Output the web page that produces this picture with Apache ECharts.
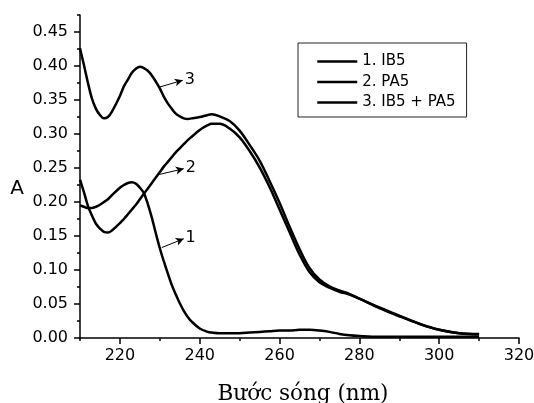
<!DOCTYPE html>
<html>
<head>
<meta charset="utf-8">
<script src="https://cdn.jsdelivr.net/npm/echarts@6/dist/echarts.min.js"></script>
<style>html,body{margin:0;padding:0;background:#fff}#c{width:534px;height:403px}</style>
</head>
<body>
<div id="c"></div>
<script>
// Wavelength (nm)
const wavelength = [210, 211, 212, 213, 214, 215, 216, 217, 218, 220, 221, 222, 223, 224, 225, 226, 227, 228, 229, 230,
  231, 232, 233, 234, 235, 236, 237, 238, 240, 242, 243, 245, 247.5, 250, 252.5, 255, 257.5, 260, 262.5, 265,
  267.5, 270, 272.5, 275, 277.5, 280, 285, 290, 295, 300, 305, 310];
// 1. IB5
const absIB5 = [0.195, 0.193, 0.191, 0.191, 0.193, 0.196, 0.200, 0.204, 0.210, 0.221, 0.225, 0.228, 0.229, 0.227, 0.221, 0.213,
  0.197, 0.177, 0.154, 0.132, 0.113, 0.095, 0.078, 0.064, 0.051, 0.040, 0.031, 0.024, 0.014, 0.009, 0.008, 0.007, 0.007,
  0.007, 0.008, 0.009, 0.010, 0.011, 0.011, 0.012, 0.012, 0.011, 0.009, 0.006, 0.004, 0.003, 0.002, 0.002, 0.002, 0.002,
  0.002, 0.002];
// 2. PA5
const absPA5 = [0.233, 0.214, 0.194, 0.180, 0.168, 0.161, 0.156, 0.155, 0.158, 0.169, 0.175, 0.182, 0.189, 0.196, 0.204, 0.212,
  0.220, 0.228, 0.236, 0.244, 0.252, 0.259, 0.266, 0.273, 0.279, 0.285, 0.291, 0.296, 0.306, 0.313, 0.315, 0.315, 0.308,
  0.295, 0.275, 0.251, 0.222, 0.189, 0.156, 0.123, 0.097, 0.082, 0.074, 0.068, 0.064, 0.058, 0.044, 0.032, 0.021, 0.012,
  0.007, 0.005];
// 3. IB5 + PA5
const absMix = [0.426, 0.401, 0.375, 0.352, 0.337, 0.328, 0.323, 0.325, 0.333, 0.356, 0.370, 0.380, 0.390, 0.396, 0.399, 0.397,
  0.393, 0.386, 0.377, 0.367, 0.355, 0.345, 0.337, 0.330, 0.326, 0.323, 0.322, 0.323, 0.325, 0.328, 0.329, 0.326, 0.319,
  0.305, 0.284, 0.261, 0.231, 0.199, 0.164, 0.131, 0.103, 0.086, 0.076, 0.070, 0.065, 0.058, 0.045, 0.033, 0.021, 0.012,
  0.007, 0.006];

const seriesNames = ['1. IB5', '2. PA5', '3. IB5 + PA5'];
const curveLabels = ['1', '2', '3'];
// arrow annotations: [start, end] in data coordinates
const arrows = [
  [[230.5, 0.133], [236, 0.146]],
  [[229.5, 0.240], [236, 0.249]],
  [[229.9, 0.369], [235.75, 0.379]]
];

const xMajor = [220, 240, 260, 280, 300, 320];
const xMinor = [210, 230, 250, 270, 290, 310];
const yMajor = [0, 0.05, 0.10, 0.15, 0.20, 0.25, 0.30, 0.35, 0.40, 0.45];
const yMinor = [0.025, 0.075, 0.125, 0.175, 0.225, 0.275, 0.325, 0.375, 0.425, 0.475];

const X_MIN = 210, X_MAX = 320, Y_MIN = 0, Y_MAX = 0.475;
const FONT = 'DejaVu Sans';
const BLACK = '#000';

const allAbs = [absIB5, absPA5, absMix];

const series = allAbs.map((arr, i) => ({
  name: seriesNames[i],
  type: 'line',
  xAxisIndex: 0,
  yAxisIndex: 0,
  data: wavelength.map((w, k) => [w, arr[k]]),
  showSymbol: false,
  symbol: 'none',
  smooth: 0.35,
  lineStyle: { color: BLACK, width: 2.5 },
  itemStyle: { color: BLACK },
  markLine: {
    silent: true,
    symbol: ['none', 'arrow'],
    symbolSize: [6, 8],
    lineStyle: { color: BLACK, width: 1, type: 'solid' },
    label: {
      show: true, position: 'end', formatter: curveLabels[i], distance: 2,
      color: BLACK, fontFamily: FONT, fontSize: 16
    },
    data: [[{ coord: arrows[i][0] }, { coord: arrows[i][1] }]]
  }
}));

const chart = echarts.init(document.getElementById('c'), null, { renderer: 'canvas' });
chart.setOption({
  animation: false,
  backgroundColor: '#fff',
  grid: { left: 80, right: 15, top: 15, bottom: 65, containLabel: false, outerBoundsMode: 'none' },
  legend: {
    data: seriesNames,
    orient: 'vertical',
    left: 298, top: 43,
    padding: [11, 11, 7, 18],
    itemWidth: 40, itemHeight: 14, itemGap: 5.5,
    borderColor: '#222', borderWidth: 1,
    textStyle: { color: BLACK, fontFamily: FONT, fontSize: 15 },
    itemStyle: { opacity: 0, borderWidth: 0 },
    lineStyle: { width: 2.5, color: BLACK }
  },
  xAxis: [{
    type: 'value', position: 'bottom', min: X_MIN, max: X_MAX,
    name: 'Bước sóng (nm)', nameLocation: 'middle', nameGap: 45,
    nameTextStyle: { fontFamily: 'DejaVu Serif', fontSize: 21.5, color: BLACK, padding: [0, 0, 0, 7] },
    axisLine: { show: true, onZero: false, lineStyle: { color: BLACK, width: 1.5 } },
    axisTick: { show: true, inside: false, length: 6, customValues: xMajor, lineStyle: { color: BLACK, width: 1.5 } },
    axisLabel: { customValues: xMajor, margin: 10, color: BLACK, fontFamily: FONT, fontSize: 16 },
    splitLine: { show: false }
  }, {
    type: 'value', position: 'bottom', min: X_MIN, max: X_MAX,
    axisLine: { show: false },
    axisTick: { show: true, inside: false, length: 3, customValues: xMinor, lineStyle: { color: BLACK, width: 1.5 } },
    axisLabel: { show: false },
    splitLine: { show: false }
  }],
  yAxis: [{
    type: 'value', position: 'left', min: Y_MIN, max: Y_MAX,
    name: 'A', nameLocation: 'middle', nameRotate: 0, nameGap: 56,
    nameTextStyle: { fontFamily: FONT, fontSize: 20, color: BLACK, verticalAlign: 'top', lineHeight: 25 },
    axisLine: { show: true, onZero: false, lineStyle: { color: BLACK, width: 1.5 } },
    axisTick: { show: true, inside: false, length: 6, customValues: yMajor, lineStyle: { color: BLACK, width: 1.5 } },
    axisLabel: {
      customValues: yMajor, margin: 12, color: BLACK, fontFamily: FONT, fontSize: 16,
      formatter: v => v.toFixed(2)
    },
    splitLine: { show: false }
  }, {
    type: 'value', position: 'left', min: Y_MIN, max: Y_MAX,
    axisLine: { show: false },
    axisTick: { show: true, inside: false, length: 3, customValues: yMinor, lineStyle: { color: BLACK, width: 1.5 } },
    axisLabel: { show: false },
    splitLine: { show: false }
  }],
  series: series
});
</script>
</body>
</html>
